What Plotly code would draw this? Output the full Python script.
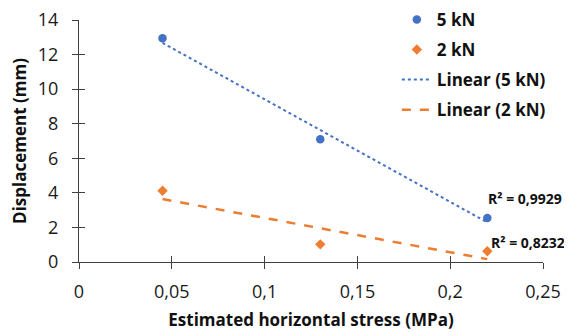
import numpy as np
import plotly.graph_objects as go

stress = [0.045, 0.13, 0.22]
disp_5kN = [12.95, 7.1, 2.55]
disp_2kN = [4.12, 1.02, 0.62]
r2_labels = ["R² = 0,9929", "R² = 0,8232"]
x_title = "Estimated horizontal stress (MPa)"
y_title = "Displacement (mm)"

BLUE = "#4472C4"
ORANGE = "#ED7D31"
AX = "#404040"
FONT = "Open Sans"

def fit(x, y):
    k, b = np.polyfit(x, y, 1)
    xs = np.array([min(x), max(x)])
    return xs, k * xs + b

fx5, fy5 = fit(stress, disp_5kN)
fx2, fy2 = fit(stress, disp_2kN)

fig = go.Figure()
fig.add_trace(go.Scatter(x=stress, y=disp_5kN, mode="markers", name="5 kN",
                         legendgroup="a",
                         marker=dict(symbol="circle", size=8.5, color=BLUE)))
fig.add_trace(go.Scatter(x=stress, y=disp_2kN, mode="markers", name="2 kN",
                         legendgroup="b",
                         marker=dict(symbol="diamond", size=8, color=ORANGE)))
fig.add_trace(go.Scatter(x=fx5, y=fy5, mode="lines", name="Linear (5 kN)",
                         legendgroup="c",
                         line=dict(color=BLUE, width=2, dash="dot")))
fig.add_trace(go.Scatter(x=fx2, y=fy2, mode="lines", name="Linear (2 kN)",
                         legendgroup="d",
                         line=dict(color=ORANGE, width=2.5, dash="dash")))

fig.add_annotation(x=stress[2], y=3.65, xref="x", yref="y", text=r2_labels[0],
                   showarrow=False, xanchor="left", yanchor="middle", xshift=-1,
                   font=dict(family=FONT, size=14, color="#111111", weight="bold"))
fig.add_annotation(x=stress[2], y=1.15, xref="x", yref="y", text=r2_labels[1],
                   showarrow=False, xanchor="left", yanchor="middle", xshift=2,
                   font=dict(family=FONT, size=14, color="#111111", weight="bold"))

axis_common = dict(showgrid=False, zeroline=False, showline=True, linecolor=AX,
                   linewidth=1, ticks="outside", ticklen=6, tickcolor=AX,
                   automargin=False, ticklabeloverflow="allow",
                   tickfont=dict(family=FONT, size=18, color="#1a1a1a"))

# the page body adds an 8px offset; size the figure to fill the 572x336 window
fig.update_layout(
    width=564, height=328,
    margin=dict(l=71, r=29, t=12, b=74, autoexpand=False),
    paper_bgcolor="white", plot_bgcolor="white",
    separators=",.",
    font=dict(family=FONT, color="#111111"),
    xaxis=dict(range=[0, 0.25], dtick=0.05, tick0=0, ticklabelstandoff=7,
               title=dict(text=x_title, standoff=12,
                          font=dict(family=FONT, size=17, weight="bold")),
               **axis_common),
    yaxis=dict(range=[0, 14], dtick=2, tick0=0, ticklabelstandoff=10,
               title=dict(text=y_title, standoff=7,
                          font=dict(family=FONT, size=17, weight="bold")),
               **axis_common),
    xaxis2=dict(overlaying="x", anchor="y", side="bottom", range=[0, 0.25],
                dtick=0.05, tick0=0, ticks="inside", ticklen=6, tickcolor=AX,
                automargin=False,
                showticklabels=False, showline=False, showgrid=False, zeroline=False),
    yaxis2=dict(overlaying="y", anchor="x", side="left", range=[0, 14],
                dtick=2, tick0=0, ticks="inside", ticklen=6, tickcolor=AX,
                automargin=False,
                showticklabels=False, showline=False, showgrid=False, zeroline=False),
    legend=dict(x=0.685, y=1.075, xanchor="left", yanchor="top",
                bgcolor="rgba(255,255,255,0)", tracegroupgap=5,
                font=dict(family=FONT, size=17, color="#111111", weight="bold")),
    showlegend=True,
)
fig.add_trace(go.Scatter(x=[None], y=[None], xaxis="x2", yaxis="y2",
                         showlegend=False, hoverinfo="skip"))

fig.write_html("out.html")
